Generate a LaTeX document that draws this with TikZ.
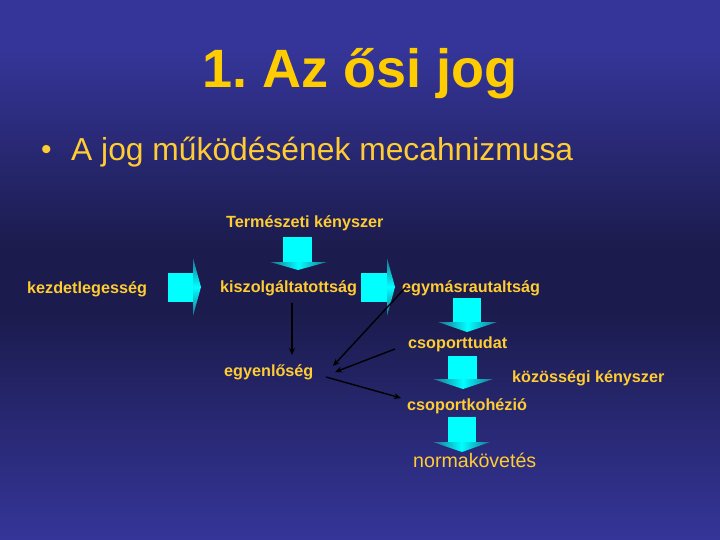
\documentclass[tikz,border=0pt]{standalone}
\usepackage{fontspec}
\setmainfont{Liberation Sans}
\usetikzlibrary{arrows.meta}
\definecolor{bgtop}{HTML}{353599}
\definecolor{bgdark}{HTML}{1B1B4D}
\definecolor{gold}{HTML}{FFCC33}
\definecolor{titlegold}{HTML}{FFCC00}
\definecolor{cyanbox}{HTML}{00FFFF}
\definecolor{cyanedge}{HTML}{1F6F90}
\frenchspacing
\begin{document}
\begin{tikzpicture}[x=1pt,y=-1pt,
  lbl/.style={text=gold,font=\fontsize{16.2}{20}\selectfont\bfseries,inner sep=0pt,anchor=base west},
  blk/.style={fill=cyanbox,draw=none},
  link/.style={draw=black,line width=1.4pt,-{Stealth[length=7pt,width=6pt]}}]
\useasboundingbox (0,0) rectangle (720,540);
% background
\fill[bgtop] (0,0) rectangle (720,50);
\shade[top color=bgtop,bottom color=bgdark] (0,50) rectangle (720,250);
\fill[bgdark] (0,249) rectangle (720,311);
\shade[top color=bgdark,bottom color=bgtop] (0,310) rectangle (720,540);
% title
\node[text=titlegold,font=\fontsize{54}{60}\selectfont\bfseries,inner sep=0pt,anchor=base] (title) at (360,88) {1. Az ősi jog};
\node[text=gold,font=\fontsize{30}{34}\selectfont,inner sep=0pt,anchor=base west] (bullet) at (41,160) {\textbullet};
\node[text=gold,font=\fontsize{31.8}{36}\selectfont,inner sep=0pt,anchor=base west] (sub) at (71,161) {A jog működésének mecahnizmusa};
% labels
\node[lbl] (termk) at (226,228) {Természeti kényszer};
\node[lbl] (kezd) at (27,293) {kezdetlegesség};
\node[lbl] (kisz) at (220,292) {kiszolgáltatottság};
\node[lbl] (egym) at (402,292) {egymásrautaltság};
\node[lbl] (csop) at (408,348) {csoporttudat};
\node[lbl] (egyen) at (224,376) {egyenlőség};
\node[lbl] (kozk) at (512,382) {közösségi kényszer};
\node[lbl] (kohez) at (407,410) {csoportkohézió};
\node[text=gold,font=\fontsize{19.6}{23}\selectfont,inner sep=0pt,anchor=base west] (norma) at (413,467) {normakövetés};
% right block arrows
\fill[blk] (168,273) rectangle (193,302);
\shade[top color=cyanedge,bottom color=cyanedge,middle color=cyanbox] (193,258) -- (201,287) -- (193,316) -- cycle;
\fill[blk] (361,273) rectangle (387,302);
\shade[top color=cyanedge,bottom color=cyanedge,middle color=cyanbox] (387,258) -- (395,287) -- (387,316) -- cycle;
% down block arrows
\fill[blk] (283,237) rectangle (312,262);
\shade[left color=cyanedge,right color=cyanedge,middle color=cyanbox] (270,262) -- (327,262) -- (298,270) -- cycle;
\fill[blk] (453,298) rectangle (481,322);
\shade[left color=cyanedge,right color=cyanedge,middle color=cyanbox] (438,322) -- (497,322) -- (467,332) -- cycle;
\fill[blk] (448,356) rectangle (477,379);
\shade[left color=cyanedge,right color=cyanedge,middle color=cyanbox] (433,379) -- (493,379) -- (463,389) -- cycle;
\fill[blk] (448,417) rectangle (476,442);
\shade[left color=cyanedge,right color=cyanedge,middle color=cyanbox] (433,442) -- (490,442) -- (462,452) -- cycle;
% connectors
\coordinate (k1) at (292,303);
\coordinate (e1) at (292,355);
\coordinate (g1) at (406,287);
\coordinate (e2) at (333,366);
\coordinate (c1) at (395,349);
\coordinate (e3) at (335,372);
\coordinate (e4) at (326,377);
\coordinate (h1) at (401,398);
\draw[link] (k1) -- (e1);
\draw[link] (g1) -- (e2);
\draw[link] (c1) -- (e3);
\draw[link] (e4) -- (h1);
\end{tikzpicture}
\end{document}
